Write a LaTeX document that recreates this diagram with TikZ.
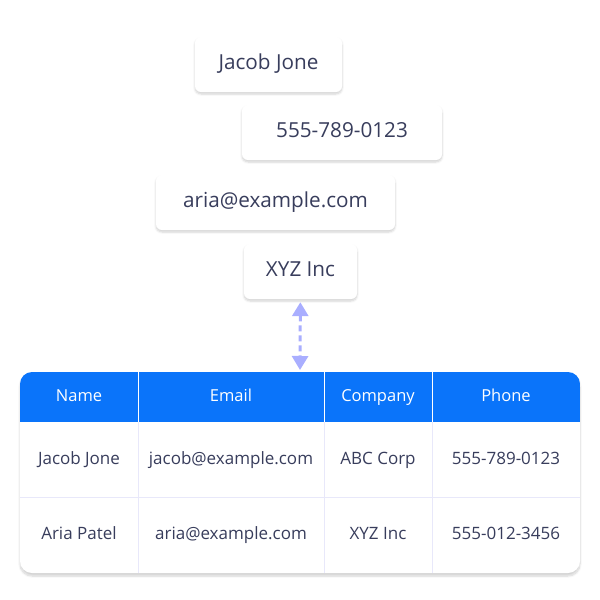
\documentclass[tikz,border=0pt]{standalone}
\usepackage{fontspec}
\setmainfont{Open Sans}
\usetikzlibrary{arrows.meta}
\usetikzlibrary{shadows.blur}
\definecolor{headblue}{HTML}{0A74FA}
\definecolor{inknavy}{HTML}{383D5C}
\definecolor{linkpurple}{HTML}{A9AEFF}
\definecolor{gridline}{HTML}{E8E8FA}
\tikzset{card/.style={fill=white, rounded corners=6pt, minimum height=55pt, text=inknavy,
  font=\fontsize{20.7}{24}\selectfont, text height=0.9em, text depth=0pt,
  blur shadow={shadow xshift=0pt, shadow yshift=-2pt, shadow blur steps=6, shadow opacity=18}},
%cells of the table
cell/.style={text=inknavy, font=\fontsize{17}{20}\selectfont, text height=0.9em, text depth=0pt},
headcell/.style={cell, text=white, font=\fontsize{16.5}{20}\selectfont},
link/.style={draw=linkpurple, line width=3pt, dash pattern=on 6pt off 4pt,
  {Triangle[width=16pt,length=14pt]}-{Triangle[width=16pt,length=14pt]}, shorten <=3pt, shorten >=2pt}}

\begin{document}
\begin{tikzpicture}[x=1pt,y=-1pt]
\useasboundingbox (0,0) rectangle (600,600);
% cards
\node[card, minimum width=147pt] (name) at (268.5,64.5) {Jacob Jone};
\node[card, minimum width=200pt] (phone) at (342,132.5) {555-789-0123};
\node[card, minimum width=239pt] (email) at (275.5,202.5) {aria@example.com};
\node[card, minimum width=113pt] (company) at (300.5,271.5) {XYZ Inc};

% table
\fill[white, rounded corners=12pt, blur shadow={shadow xshift=0pt, shadow yshift=-3pt, shadow blur steps=8, shadow opacity=18}] (20,372) rectangle (580,573);
\begin{scope}
\clip[rounded corners=12pt] (20,372) rectangle (580,573);
\fill[headblue] (20,372) rectangle (580,422);
\end{scope}
\draw[gridline] (20,497) -- (580,497);
\foreach \x in {138,324,432} {
  \draw[white] (\x,372) -- (\x,422);
  \draw[gridline] (\x,422) -- (\x,573);
}
\coordinate (tabletop) at (300,372);

\foreach \x/\t [count=\i] in {79/Name,231/Email,378/Company,506/Phone}
  \node[headcell] (h\i) at (\x,397) {\t};
\foreach \x/\t [count=\i] in {79/Jacob Jone,231/jacob@example.com,378/ABC Corp,506/555-789-0123}
  \node[cell] (a\i) at (\x,459.5) {\t};
\foreach \x/\t [count=\i] in {79/Aria Patel,231/aria@example.com,378/XYZ Inc,506/555-012-3456}
  \node[cell] (b\i) at (\x,535) {\t};

\draw[link] (company) -- (tabletop);
\end{tikzpicture}
\end{document}
